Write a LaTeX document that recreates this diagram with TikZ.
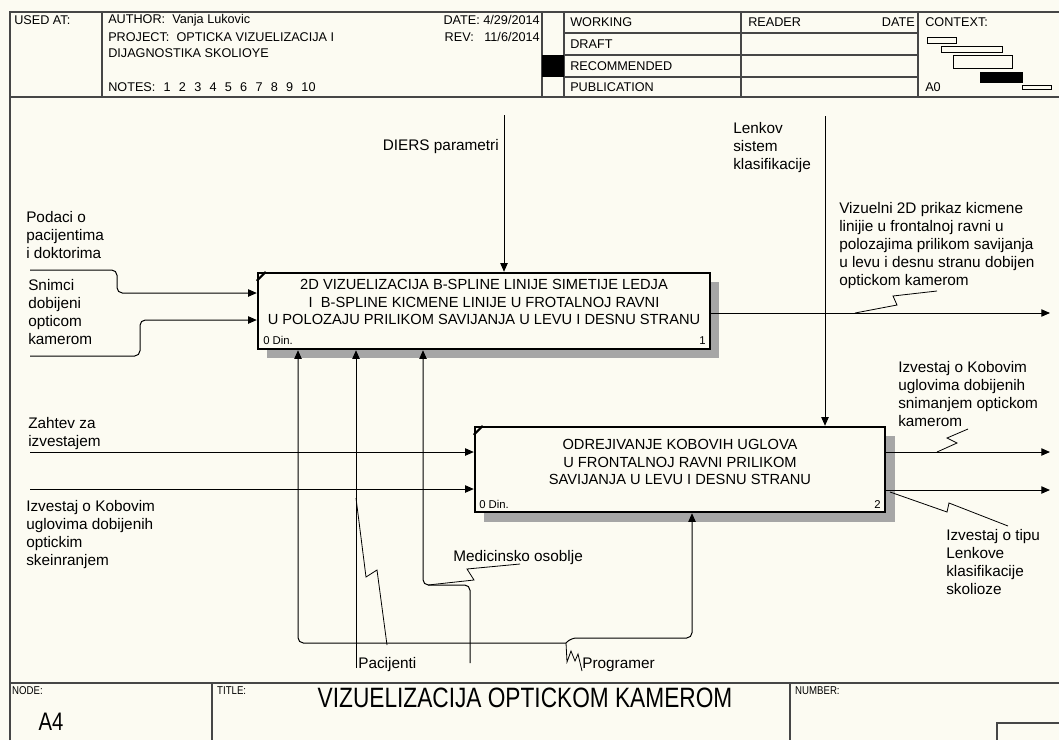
\documentclass[tikz,border=0pt]{standalone}
\usepackage{fontspec}
\setmainfont{Liberation Sans}
\usetikzlibrary{arrows.meta}

\definecolor{paper}{RGB}{252,251,242}
\definecolor{frame}{RGB}{70,70,70}

\tikzset{
  >={Triangle[length=6.5pt,width=5.5pt]},
  flow/.style={line width=0.75pt},
  squig/.style={line width=0.6pt},
  lbl/.style={font=\fontsize{11.5}{13.5}\selectfont, align=left, inner sep=0pt, anchor=north west},
  actbox/.style={draw, line width=1.8pt, fill=paper, inner sep=0pt},
  acttext/.style={font=\fontsize{11}{13.1}\selectfont, align=center, inner sep=0pt},
  hdr/.style={font=\fontsize{9.5}{11}\selectfont, inner sep=0pt, anchor=west},
  small/.style={font=\fontsize{8.5}{9}\selectfont, inner sep=0pt},
  shade/.style={fill=black!35},
}
\newcommand{\gap}{\hspace{6.2pt}}

\begin{document}
\begin{tikzpicture}[x=0.75pt, y=-0.75pt]
\useasboundingbox (0,0) rectangle (1059,740);
\fill[paper] (0,0) rectangle (1059,740);

% frame, header and footer
\draw[frame, line width=1.5pt] (10,740) -- (10,12) -- (1059,12);
\draw[frame, line width=1pt] (10,97) -- (1059,97) (10,683) -- (1059,683);
\draw[frame, line width=0.8pt] (102,12) -- (102,97) (542,12) -- (542,97) (564,12) -- (564,97)
  (741,12) -- (741,97) (918,12) -- (918,97);
\draw[frame, line width=0.8pt] (564,33) -- (918,33) (564,55) -- (918,55) (564,77) -- (918,77);
\fill (542,55) rectangle (564,77);
\draw[frame, line width=0.8pt] (212,683) -- (212,740) (790,683) -- (790,740)
  (1059,723) -- (997,723) -- (997,740);
% context thumbnails
\draw[line width=0.6pt] (927,37) rectangle (956,43) (941,46) rectangle (1002,52)
  (953,55) rectangle (1012,68) (1022,85) rectangle (1051,89);
\fill (980,72) rectangle (1023,83);

\node[hdr] (usedat) at (14,20) {USED AT:};
\node[hdr] (author) at (108,20) {AUTHOR:\ \ Vanja Lukovic};
\node[hdr] (project) at (108,37) {PROJECT:\ \ OPTICKA VIZUELIZACIJA I};
\node[hdr] (project2) at (108,53) {DIJAGNOSTIKA SKOLIOYE};
\node[hdr] (notes) at (108,87) {NOTES:\gap 1\gap 2\gap 3\gap 4\gap 5\gap 6\gap 7\gap 8\gap 9\gap 10};
\node[hdr, anchor=east] (date) at (540,20) {DATE: 4/29/2014};
\node[hdr, anchor=east] (rev) at (540,37) {REV:\ \ \ 11/6/2014};
\node[hdr] (working) at (570,22) {WORKING};
\node[hdr] (draft) at (570,44) {DRAFT};
\node[hdr] (recom) at (570,66) {RECOMMENDED};
\node[hdr] (publ) at (570,87) {PUBLICATION};
\node[hdr] (reader) at (748,22) {READER};
\node[hdr, anchor=east] (rdate) at (915,22) {DATE};
\node[hdr] (context) at (925,22) {CONTEXT:};
\node[hdr] (a0) at (925,87) {A0};

\node[small, anchor=west, xscale=0.85] (nodelbl) at (12,691) {NODE:};
\node[font=\fontsize{19}{20}\selectfont, inner sep=0pt, xscale=0.8] (nodeno) at (51,722) {A4};
\node[small, anchor=west, xscale=0.85] (titlelbl) at (217,691) {TITLE:};
\node[font=\fontsize{21}{24}\selectfont, inner sep=0pt, xscale=0.81] (title) at (525,698) {VIZUELIZACIJA OPTICKOM KAMEROM};
\node[small, anchor=west, xscale=0.85] (numberlbl) at (795,691) {NUMBER:};

% shadows
\fill[shade] (267,282) rectangle (719,358);
\fill[shade] (484,436) rectangle (895,522);

% activity boxes
\node[actbox, minimum width=339pt, minimum height=57pt] (b1) at (484,311) {};
\node[actbox, minimum width=307.5pt, minimum height=63.75pt] (b2) at (680,469.5) {};
\draw[line width=1.5pt] (b1.north west) ++(0,9) -- ++(9,-9);
\draw[line width=1.5pt] (b2.north west) ++(0,9) -- ++(9,-9);
\node[acttext] (t1) at (484,302) {2D VIZUELIZACIJA B-SPLINE LINIJE SIMETIJE LEDJA\\
  I\ \ B-SPLINE KICMENE LINIJE U FROTALNOJ RAVNI\\
  U POLOZAJU PRILIKOM SAVIJANJA U LEVU I DESNU STRANU};
\node[acttext] (t2) at (680,462) {ODREJIVANJE KOBOVIH UGLOVA\\
  U FRONTALNOJ RAVNI PRILIKOM\\
  SAVIJANJA U LEVU I DESNU STRANU};
\node[small, anchor=base west] (din1) at (263,344) {0 Din.};
\node[small, anchor=base east] (num1) at (706,344) {1};
\node[small, anchor=base west] (din2) at (479,508) {0 Din.};
\node[small, anchor=base east] (num2) at (881,508) {2};

% inputs
\coordinate (podaci) at (30,270);
\coordinate (snimci) at (30,356);
\coordinate (zahtev) at (30,452);
\coordinate (izvin) at (30,489);
\draw[flow,->,rounded corners=4pt] (podaci) -- (117,270) -- (117,293) -- (b1.west |- 0,293);
\draw[flow,->,rounded corners=4pt] (snimci) -- (140,356) -- (140,320) -- (b1.west |- 0,320);
\draw[flow,->] (zahtev) -- (zahtev -| b2.west);
\draw[flow,->] (izvin) -- (izvin -| b2.west);

% controls
\coordinate (diers) at (504,115);
\coordinate (lenkov) at (825,116);
\draw[flow,->] (diers) -- (diers |- b1.north);
\draw[flow,->] (lenkov) -- (lenkov |- b2.north);

% outputs
\coordinate (vizout) at (1050,313);
\coordinate (kobout) at (1050,452);
\coordinate (tipout) at (1050,490);
\draw[flow,->] (b1.east |- vizout) -- (vizout);
\draw[flow,->] (b2.east |- kobout) -- (kobout);
\draw[flow,->] (b2.east |- tipout) -- (tipout);

% mechanisms
\coordinate (pac) at (356,668);
\coordinate (med) at (470,663);
\coordinate (prg) at (566,643);
\draw[flow,->] (pac) -- (pac |- b1.south);
\draw[flow,->,rounded corners=4pt] (med) -- (470,585) -- (423,585) -- (b1.south -| 423,0);
\draw[flow,->,rounded corners=4pt] (prg) -- (298,643) -- (b1.south -| 298,0);
\draw[flow,->,rounded corners=4pt] (prg) -- (571,638) -- (692,638) -- (b2.south -| 692,0);

% labels
\node[lbl] (podacilbl) at (26,211) {Podaci o\\pacijentima\\i doktorima};
\node[lbl] (snimcilbl) at (28,279) {Snimci\\dobijeni\\opticom\\kamerom};
\node[lbl] (zahtevlbl) at (28,417) {Zahtev za\\izvestajem};
\node[lbl] (izvinlbl) at (26,500) {Izvestaj o Kobovim\\uglovima dobijenih\\optickim\\skeinranjem};
\node[lbl, anchor=base east] (dierslbl) at (499,150) {DIERS parametri};
\node[lbl] (lenkovlbl) at (733,122) {Lenkov\\sistem\\klasifikacije};
\node[lbl] (vizlbl) at (839,202) {Vizuelni 2D prikaz kicmene\\linijie u frontalnoj ravni u\\polozajima prilikom savijanja\\u levu i desnu stranu dobijen\\optickom kamerom};
\node[lbl] (koblbl) at (898,361) {Izvestaj o Kobovim\\uglovima dobijenih\\snimanjem optickom\\kamerom};
\node[lbl] (tiplbl) at (946,529) {Izvestaj o tipu\\Lenkove\\klasifikacije\\skolioze};
\node[lbl] (medlbl) at (453,550) {Medicinsko osoblje};
\node[lbl] (paclbl) at (358,657) {Pacijenti};
\node[lbl] (prglbl) at (582,658) {Programer};

% squiggles
\draw[squig] (937,291) -- (893,296) -- (897,305) -- (855,313);
\draw[squig] (968,429) -- (947,438) -- (957,443) -- (937,452);
\draw[squig] (890,492) -- (947,512) -- (949,503) -- (1008,526);
\draw[squig] (356,498) -- (366,577) -- (377,570) -- (387,645);
\draw[squig] (428,585) -- (474,580) -- (467,569) -- (520,564);
\draw[squig] (566,643) -- (567,662) -- (571,651) -- (575,661) -- (578,654) -- (582,671);
\end{tikzpicture}
\end{document}
